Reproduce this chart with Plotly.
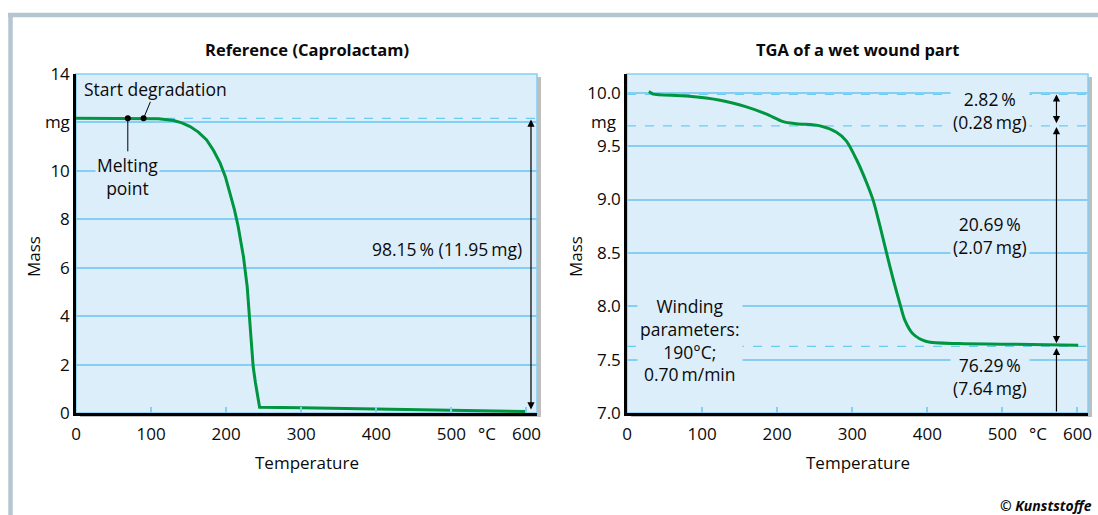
import plotly.graph_objects as go

# ---------------- data ----------------
ref_temp = [0, 40, 90, 110, 130, 141, 152, 163, 174, 183, 192, 199, 205, 211, 216, 220, 223, 228, 232, 236, 239, 241, 243, 244.5, 300, 400, 500, 600]
ref_mass = [12.17, 12.17, 12.17, 12.15, 12.08, 11.98, 11.83, 11.6, 11.28, 10.85, 10.32, 9.75, 9.08, 8.4, 7.70, 7.05, 6.46, 5.22, 3.57, 1.91, 1.25, 0.83, 0.45, 0.24, 0.22, 0.17, 0.11, 0.06]

wet_temp = [29, 32, 35, 79, 124, 159, 186, 208, 226, 257, 279, 292, 306, 319, 328, 337, 346, 355, 364, 370, 381, 399, 443, 500, 601]
wet_mass = [10.01, 10.0, 9.988, 9.969, 9.93, 9.868, 9.80, 9.73, 9.71, 9.69, 9.63, 9.55, 9.37, 9.16, 8.99, 8.75, 8.49, 8.24, 8.01, 7.87, 7.74, 7.67, 7.65, 7.645, 7.635]

x_ticks = [0, 100, 200, 300, 400, 500, 600]
ref_y_ticks = [0, 2, 4, 6, 8, 10, 12, 14]
ref_y_text = ["0", "2", "4", "6", "8", "10", "mg", "14"]
wet_y_ticks = [7.0, 7.5, 8.0, 8.5, 9.0, 9.5, 10.0]

ref_start_level = 12.17
ref_end_level = 0.08
melting_T = 69
start_deg_T = 90
ref_arrow_T = 606

wet_levels = [9.985, 9.69, 7.625]
wet_arrow_T = 572

# ---------------- styling ----------------
W, H = 1098, 515
FONT = "Open Sans"
BG = "#ddeefb"
GRID = "#84cff3"
DASH = "#6ccbf3"
GREEN = "#00963f"
TXT = "#0a0a0a"
FS = 17        # tick labels / axis titles
FA = 17.5      # in-plot annotations


def px(x):
    return x / W


def py(y):
    return 1 - y / H


L = [76, 537]
R = [627, 1088]
TOP, BOT = 74, 413

fig = go.Figure()
fig.add_trace(go.Scatter(x=ref_temp, y=ref_mass, mode="lines",
                         line=dict(color=GREEN, width=3), xaxis="x", yaxis="y",
                         showlegend=False, hoverinfo="skip"))
fig.add_trace(go.Scatter(x=wet_temp, y=wet_mass, mode="lines",
                         line=dict(color=GREEN, width=3, shape="spline", smoothing=0.8),
                         xaxis="x2", yaxis="y2", showlegend=False, hoverinfo="skip"))

axis_common = dict(showline=True, linecolor="black", linewidth=2.5, zeroline=False,
                   automargin=False, tickfont=dict(family=FONT, size=FS, color=TXT))

fig.update_layout(
    template="none",
    width=W, height=H,
    margin=dict(l=0, r=0, t=0, b=0, pad=0),
    paper_bgcolor="white", plot_bgcolor="rgba(0,0,0,0)",
    font=dict(family=FONT, size=FA, color=TXT),
    xaxis=dict(domain=[px(L[0]), px(L[1])], range=[0, 614], tickvals=x_ticks,
               ticks="inside", ticklen=6, tickcolor=GRID, tickwidth=1.5,
               showgrid=False, ticklabelstandoff=4, anchor="y", **axis_common),
    yaxis=dict(domain=[py(BOT), py(TOP)], range=[0, 14], tickvals=ref_y_ticks,
               ticktext=ref_y_text, ticks="", showgrid=True, gridcolor=GRID,
               gridwidth=1.5, anchor="x", **axis_common),
    xaxis2=dict(domain=[px(R[0]), px(R[1])], range=[0, 614], tickvals=x_ticks,
                ticks="inside", ticklen=6, tickcolor=GRID, tickwidth=1.5,
                showgrid=False, ticklabelstandoff=4, anchor="y2", **axis_common),
    yaxis2=dict(domain=[py(BOT), py(TOP)], range=[7.0, 10.176], tickvals=wet_y_ticks,
                tickformat=".1f", ticks="", showgrid=True, gridcolor=GRID,
                gridwidth=1.5, anchor="x2", **axis_common),
)

shapes = []
# outer frame (top and left bars)
shapes.append(dict(type="line", xref="paper", yref="paper", x0=px(8), x1=1,
                   y0=py(15), y1=py(15), line=dict(color="#b5c6d1", width=4.5), layer="below"))
shapes.append(dict(type="line", xref="paper", yref="paper", x0=px(10.5), x1=px(10.5),
                   y0=py(13), y1=0, line=dict(color="#b5c6d1", width=4.5), layer="below"))
for dom in (L, R):
    # shadow
    shapes.append(dict(type="rect", xref="paper", yref="paper",
                       x0=px(dom[0] + 4), x1=px(dom[1] + 4), y0=py(BOT + 4), y1=py(TOP + 3),
                       fillcolor="rgba(0,0,0,0.25)", line=dict(width=0), layer="below"))
    # plot background with light-blue border
    shapes.append(dict(type="rect", xref="paper", yref="paper",
                       x0=px(dom[0]), x1=px(dom[1]), y0=py(BOT), y1=py(TOP),
                       fillcolor=BG, line=dict(color=GRID, width=1.5), layer="below"))

# dashed reference levels
shapes.append(dict(type="line", xref="x domain", yref="y", x0=0, x1=1,
                   y0=ref_start_level, y1=ref_start_level,
                   line=dict(color=DASH, width=1.3, dash="dash"), layer="below"))
for lv in wet_levels:
    shapes.append(dict(type="line", xref="x2 domain", yref="y2", x0=0, x1=1, y0=lv, y1=lv,
                       line=dict(color=DASH, width=1.3, dash="dash"), layer="below"))
fig.update_layout(shapes=shapes)


def label(text, x, y, size=FS, **kw):
    d = dict(text=text, xref="paper", yref="paper", x=x, y=y, xanchor="center",
             yanchor="middle", showarrow=False, font=dict(size=size, family=FONT, color=TXT))
    d.update(kw)
    return d


ann = []
# titles
ann.append(label("<b>Reference (Caprolactam)</b>", px(sum(L) / 2), py(50), size=16.5))
ann.append(label("<b>TGA of a wet wound part</b>", px(sum(R) / 2), py(50), size=16.5))
# axis titles
for xm, dom in ((33, L), (575, R)):
    ann.append(label("Mass", px(xm), py(257), textangle=-90))
    ann.append(label("Temperature", px(sum(dom) / 2), py(462)))
# °C labels
ann.append(label("°C", 548, py(433), xref="x"))
ann.append(label("°C", 548, py(433), xref="x2"))
# right "mg" unit label
ann.append(label("mg", px(618), 9.73, yref="y2", xanchor="right"))

# left chart annotations
ann.append(dict(text="Start degradation", xref="x", yref="y", x=start_deg_T, y=ref_start_level,
                ax=12, ay=-29, showarrow=True, arrowhead=6, arrowsize=1.5, arrowwidth=1,
                arrowcolor="black", bgcolor=BG, borderpad=0, standoff=0))
ann.append(dict(text="Melting<br>point", xref="x", yref="y", x=melting_T, y=ref_start_level,
                ax=0, ay=58, showarrow=True, arrowhead=6, arrowsize=1.5, arrowwidth=1,
                arrowcolor="black", bgcolor=BG, borderpad=1, standoff=0))
ann.append(dict(text="", xref="x", yref="y", axref="x", ayref="y",
                x=ref_arrow_T, y=ref_start_level - 0.05, ax=ref_arrow_T, ay=ref_end_level,
                showarrow=True, arrowhead=2, arrowside="end+start", arrowsize=1.2,
                arrowwidth=1.2, arrowcolor="black", standoff=0, startstandoff=0))
ann.append(dict(text="98.15\u2009% (11.95\u2009mg)", xref="x", yref="y", x=597, y=6.78,
                xanchor="right", yanchor="middle", showarrow=False, bgcolor=BG))

# right chart arrows
ann.append(dict(text="", xref="x2", yref="y2", axref="x2", ayref="y2",
                x=wet_arrow_T, y=wet_levels[0], ax=wet_arrow_T, ay=wet_levels[1] + 0.01,
                showarrow=True, arrowhead=2, arrowside="end+start", arrowsize=1.2,
                arrowwidth=1.2, arrowcolor="black", standoff=0, startstandoff=0))
ann.append(dict(text="", xref="x2", yref="y2", axref="x2", ayref="y2",
                x=wet_arrow_T, y=wet_levels[1] - 0.01, ax=wet_arrow_T, ay=wet_levels[2] + 0.015,
                showarrow=True, arrowhead=2, arrowside="end+start", arrowsize=1.2,
                arrowwidth=1.2, arrowcolor="black", standoff=0, startstandoff=0))
ann.append(dict(text="", xref="x2", yref="y2", axref="x2", ayref="y2",
                x=wet_arrow_T, y=wet_levels[2] - 0.015, ax=wet_arrow_T, ay=7.0,
                showarrow=True, arrowhead=2, arrowside="end", arrowsize=1.2,
                arrowwidth=1.2, arrowcolor="black", standoff=0, startstandoff=0))
for txt, yv in (("2.82\u2009%<br>(0.28\u2009mg)", 9.83),
                ("20.69\u2009%<br>(2.07\u2009mg)", 8.66),
                ("76.29\u2009%<br>(7.64\u2009mg)", 7.34)):
    ann.append(dict(text=txt, xref="x2", yref="y2", x=484, y=yv, showarrow=False,
                    xanchor="center", yanchor="middle", bgcolor=BG, borderpad=2))
ann.append(dict(text="Winding<br>parameters:<br>190°C;<br>0.70\u2009m/min", xref="x2", yref="y2",
                x=84, y=7.68, showarrow=False, xanchor="center", yanchor="middle",
                bgcolor=BG, borderpad=2))

# copyright
ann.append(label("<b><i>© Kunststoffe</i></b>", px(1094), py(505), size=14, xanchor="right"))

fig.update_layout(annotations=ann)
fig.write_html("out.html", config={"displayModeBar": False},
               post_script="document.body.style.margin='0';document.body.style.padding='0';")
